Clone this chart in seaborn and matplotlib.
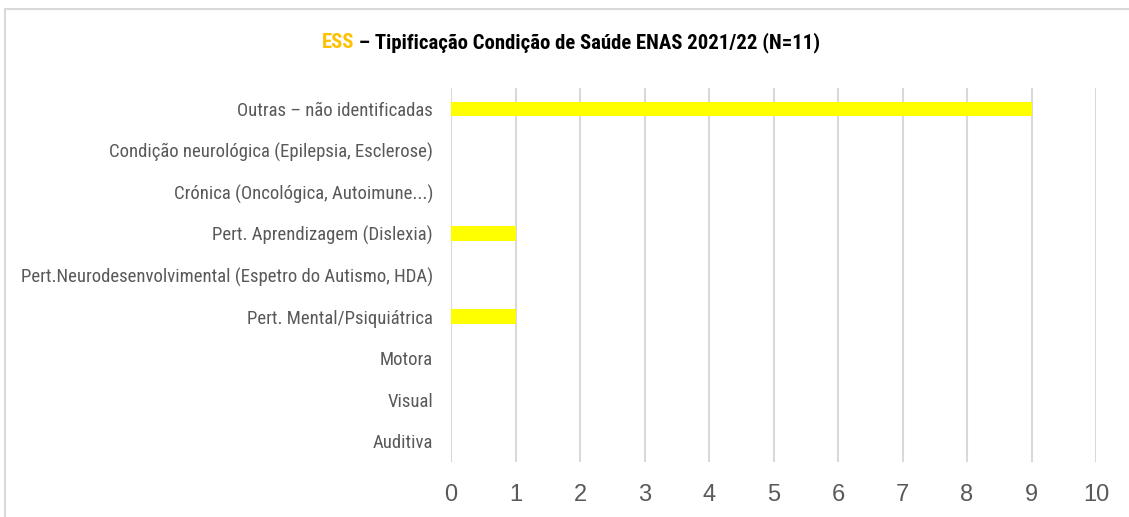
import matplotlib
matplotlib.use("Agg")
import matplotlib.pyplot as plt
from matplotlib import font_manager
from matplotlib.lines import Line2D
import seaborn as sns
import pandas as pd

categories = [
    "Outras – não identificadas",
    "Condição neurológica (Epilepsia, Esclerose)",
    "Crónica (Oncológica, Autoimune...)",
    "Pert. Aprendizagem (Dislexia)",
    "Pert.Neurodesenvolvimental (Espetro do Autismo, HDA)",
    "Pert. Mental/Psiquiátrica",
    "Motora",
    "Visual",
    "Auditiva",
]
values = [9, 0, 0, 1, 0, 1, 0, 0, 0]
x_ticks = [0, 1, 2, 3, 4, 5, 6, 7, 8, 9, 10]
title_prefix = "ESS"
title_rest = " – Tipificação Condição de Saúde ENAS 2021/22 (N=11)"

names = {f.name for f in font_manager.fontManager.ttflist}
fam = [n for n in ["Roboto Condensed", "Liberation Sans Narrow", "Roboto", "DejaVu Sans"] if n in names]

sns.set_theme(style="white")
plt.rcParams["font.family"] = fam

W, H = 1129, 517
fig = plt.figure(figsize=(W / 100, H / 100), dpi=100)
ax = fig.add_axes([451 / W, 1 - 462 / H, (1096 - 451) / W, (462 - 88) / H])

df = pd.DataFrame({"cat": categories, "val": values})
sns.barplot(data=df, y="cat", x="val", orient="h", color="#FFFF00",
            saturation=1, width=0.34, ax=ax, order=categories, linewidth=0)

ax.set_xlim(0, 10)
ax.set_xticks(x_ticks)
ax.set_xticklabels([str(t) for t in x_ticks], fontsize=17, color="#595959",
                   family="Liberation Sans")
ax.grid(axis="x", color="#d9d9d9", linewidth=1.5)
ax.set_axisbelow(True)
ax.set_xlabel("")
ax.set_ylabel("")
ax.tick_params(axis="y", labelsize=13, colors="#595959", length=0, pad=13)
ax.tick_params(axis="x", length=0, pad=16)
for s in ax.spines.values():
    s.set_visible(False)

# frame border (top and left only visible)
fig.add_artist(Line2D([4.5 / W, 4.5 / W], [0, 1 - 9 / H], transform=fig.transFigure,
                      color="#d9d9d9", linewidth=1.5))
fig.add_artist(Line2D([4.5 / W, 1], [1 - 9 / H, 1 - 9 / H], transform=fig.transFigure,
                      color="#d9d9d9", linewidth=1.5))

fig.canvas.draw()
r = fig.canvas.get_renderer()

# fit y labels so longest spans ~411 px
labs = ax.get_yticklabels()
maxw = max(t.get_window_extent(r).width for t in labs)
fs = 13 * 411 / maxw
for t in labs:
    t.set_fontsize(fs)

# two-colour title, fitted to ~498 px
t1 = fig.text(0, 1 - 43 / H, title_prefix, color="#FFC000", fontsize=15,
              fontweight="bold", va="center", ha="left")
t2 = fig.text(0, 1 - 43 / H, title_rest, color="black", fontsize=15,
              fontweight="bold", va="center", ha="left")
tw = t1.get_window_extent(r).width + t2.get_window_extent(r).width
tfs = 15 * 498 / tw
t1.set_fontsize(tfs)
t2.set_fontsize(tfs)
fig.canvas.draw()
w1 = t1.get_window_extent(r).width
w2 = t2.get_window_extent(r).width
x0 = 571 - (w1 + w2) / 2
t1.set_x(x0 / W)
t2.set_x((x0 + w1) / W)

fig.savefig("out.png", dpi=100)
